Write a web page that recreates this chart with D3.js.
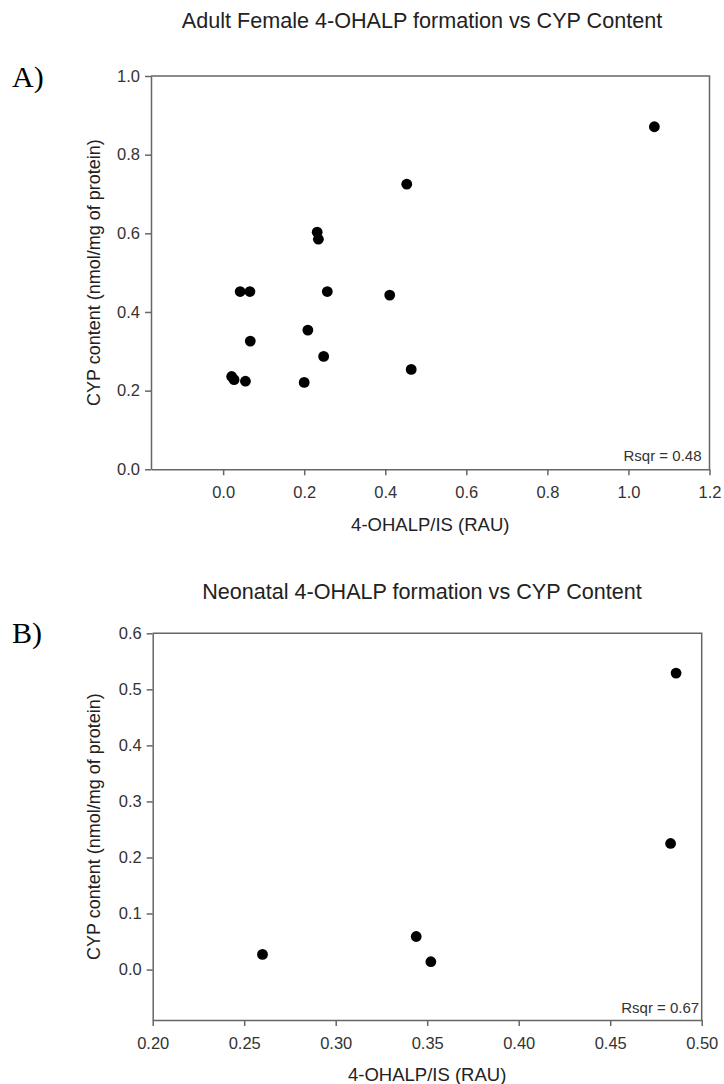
<!DOCTYPE html>
<html>
<head>
<meta charset="utf-8">
<script src="https://cdn.jsdelivr.net/npm/d3@7"></script>
<style>
  body { margin: 0; background: #fff; }
  svg { display: block; font-family: "Liberation Sans", Arial, sans-serif; }
  .axis path, .axis line { stroke: #666; stroke-width: 1.5px; }
  .axis text { fill: #333; font-size: 16.5px; }
</style>
</head>
<body>
<svg id="chart" width="724" height="1084"></svg>
<script>
// panel A: adult female
const adultX = [0.021, 0.027, 0.042, 0.066, 0.067, 0.055, 0.200, 0.209, 0.232, 0.235, 0.257, 0.248, 0.411, 0.453, 0.464, 1.064];
const adultY = [0.236, 0.228, 0.452, 0.452, 0.326, 0.224, 0.221, 0.354, 0.603, 0.585, 0.452, 0.287, 0.443, 0.725, 0.254, 0.871];
const adultXTicks = [0, 0.2, 0.4, 0.6, 0.8, 1.0, 1.2];
const adultYTicks = [0, 0.2, 0.4, 0.6, 0.8, 1.0];
const adultXDomain = [-0.178, 1.2];
const adultYDomain = [0, 1.0];

// panel B: neonatal
const neoX = [0.260, 0.344, 0.352, 0.483, 0.486];
const neoY = [0.027, 0.059, 0.014, 0.225, 0.529];
const neoXTicks = [0.20, 0.25, 0.30, 0.35, 0.40, 0.45, 0.50];
const neoYTicks = [0, 0.1, 0.2, 0.3, 0.4, 0.5, 0.6];
const neoXDomain = [0.2, 0.5];
const neoYDomain = [-0.09, 0.6];

const svg = d3.select('#chart');

function panel(cfg) {
  const x = d3.scaleLinear().domain(cfg.xDomain).range([cfg.left, cfg.right]);
  const y = d3.scaleLinear().domain(cfg.yDomain).range([cfg.bottom, cfg.top]);
  const g = svg.append('g');

  // frame top / right
  g.append('path')
      .attr('d', `M${cfg.left},${cfg.top}H${cfg.right}V${cfg.bottom}`)
      .attr('fill', 'none')
      .attr('stroke', '#666')
      .attr('stroke-width', 1.5);

  g.append('g')
      .attr('class', 'axis')
      .attr('transform', `translate(0,${cfg.bottom})`)
      .call(d3.axisBottom(x).tickValues(cfg.xTicks).tickFormat(d3.format(cfg.xFmt))
        .tickSize(6).tickSizeOuter(0).tickPadding(11));

  g.append('g')
      .attr('class', 'axis')
      .attr('transform', `translate(${cfg.left},0)`)
      .call(d3.axisLeft(y).tickValues(cfg.yTicks).tickFormat(d3.format(cfg.yFmt))
        .tickSize(6).tickSizeOuter(0).tickPadding(5));

  g.selectAll('circle')
    .data(cfg.xs.map((v, i) => [v, cfg.ys[i]]))
    .enter().append('circle')
      .attr('cx', d => x(d[0]))
      .attr('cy', d => y(d[1]))
      .attr('r', 5.4)
      .attr('fill', '#000');

  g.append('text')
      .attr('x', 422)
      .attr('y', cfg.titleY)
      .attr('text-anchor', 'middle')
      .attr('font-size', 21.6)
      .attr('fill', '#222')
      .text(cfg.title);

  g.append('text')
      .attr('x', 12)
      .attr('y', cfg.letterY)
      .attr('font-family', '"Liberation Serif", "Times New Roman", serif')
      .attr('font-size', 30)
      .attr('fill', '#000')
      .text(cfg.letter);

  g.append('text')
      .attr('x', (cfg.left + cfg.right) / 2)
      .attr('y', cfg.xTitleY)
      .attr('text-anchor', 'middle')
      .attr('font-size', 18.5)
      .attr('fill', '#222')
      .text('4-OHALP/IS (RAU)');

  g.append('text')
      .attr('transform', `translate(100,${(cfg.top + cfg.bottom) / 2}) rotate(-90)`)
      .attr('text-anchor', 'middle')
      .attr('font-size', 18)
      .attr('fill', '#222')
      .text('CYP content (nmol/mg of protein)');

  g.append('text')
      .attr('x', cfg.right - cfg.rsqrDx)
      .attr('y', cfg.bottom - cfg.rsqrDy)
      .attr('text-anchor', 'end')
      .attr('font-size', 15)
      .attr('fill', '#333')
      .text(cfg.rsqr);
}

panel({
  xs: adultX, ys: adultY,
  xDomain: adultXDomain, yDomain: adultYDomain,
  xTicks: adultXTicks, yTicks: adultYTicks,
  xFmt: '.1f', yFmt: '.1f',
  left: 151, right: 709.5, top: 76, bottom: 469.3,
  title: 'Adult Female 4-OHALP formation vs CYP Content', titleY: 28,
  letter: 'A)', letterY: 87,
  xTitleY: 531,
  rsqr: 'Rsqr = 0.48', rsqrDx: 8, rsqrDy: 8.6
});

panel({
  xs: neoX, ys: neoY,
  xDomain: neoXDomain, yDomain: neoYDomain,
  xTicks: neoXTicks, yTicks: neoYTicks,
  xFmt: '.2f', yFmt: '.1f',
  left: 152.7, right: 701.7, top: 633.3, bottom: 1020,
  title: 'Neonatal 4-OHALP formation vs CYP Content', titleY: 599,
  letter: 'B)', letterY: 643,
  xTitleY: 1081,
  rsqr: 'Rsqr = 0.67', rsqrDx: 2.5, rsqrDy: 6.7
});
</script>
</body>
</html>
